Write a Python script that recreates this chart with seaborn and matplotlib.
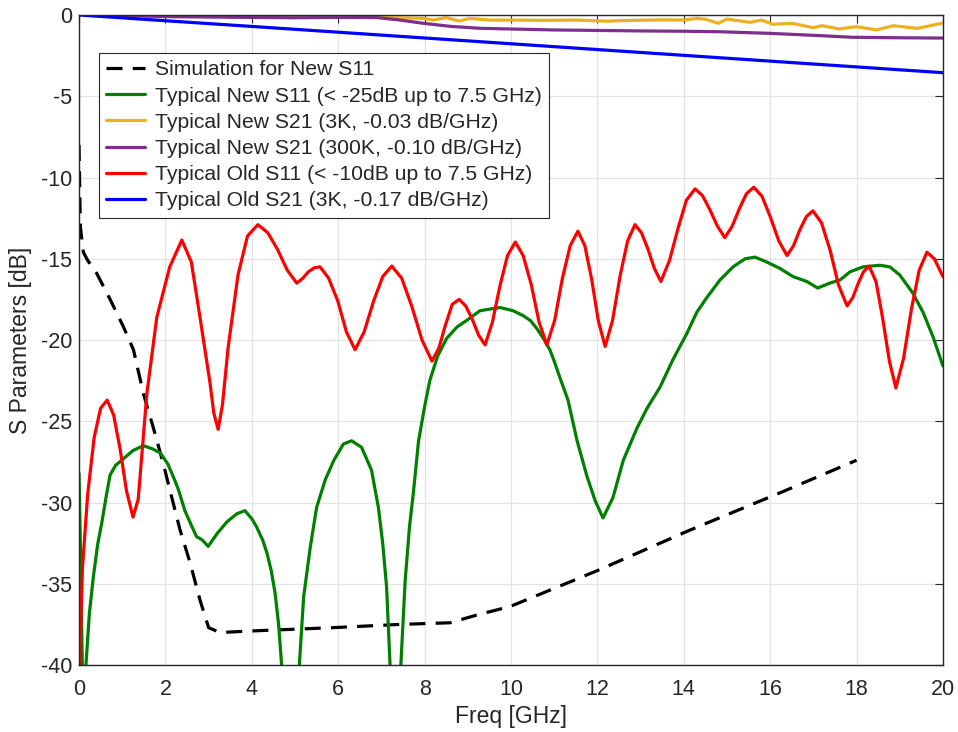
import seaborn as sns
import matplotlib.pyplot as plt

# ---- data (freq in GHz, level in dB) ----
sim_freq = [0, 0.03, 0.1, 0.2, 0.41, 0.72, 1.03, 1.26, 1.49, 1.72, 1.95, 2.1,
            2.34, 2.57, 2.8, 3.0, 3.26, 4.03, 5.88, 7.43, 8.59, 9.24, 9.98,
            11.99, 14.14, 16.23, 18.0]
sim_s11 = [-8.0, -13.0, -14.6, -15.1, -15.9, -17.5, -19.2, -20.6, -23.3, -25.4,
           -27.6, -29.2, -31.7, -33.7, -36.0, -37.7, -38.0, -37.9, -37.7, -37.5,
           -37.4, -36.9, -36.4, -34.2, -31.7, -29.4, -27.4]

new_s11_freq = [0, 0.04, 0.09, 0.16, 0.24, 0.33, 0.43, 0.53, 0.63, 0.72, 0.85,
                1.03, 1.25, 1.49, 1.7, 1.88, 2.05, 2.18, 2.3, 2.45, 2.6, 2.72,
                2.85, 2.99, 3.2, 3.42, 3.65, 3.84, 4.0, 4.11, 4.25, 4.35, 4.45,
                4.54, 4.62, 4.69, 4.9, 5.1, 5.2, 5.35, 5.5, 5.7, 5.9, 6.12, 6.31,
                6.54, 6.77, 6.93, 7.03, 7.12, 7.2, 7.32, 7.45, 7.55, 7.65, 7.74,
                7.86, 8.0, 8.12, 8.3, 8.51, 8.75, 8.97, 9.28, 9.5, 9.75, 10.05,
                10.28, 10.45, 10.6, 10.75, 10.9, 11.0, 11.13, 11.32, 11.53,
                11.76, 11.95, 12.13, 12.36, 12.6, 12.92, 13.15, 13.45, 13.75,
                14.07, 14.3, 14.53, 14.84, 15.14, 15.42, 15.65, 15.92, 16.23,
                16.53, 16.85, 17.1, 17.38, 17.62, 17.85, 18.15, 18.54, 18.77,
                19.0, 19.3, 19.54, 19.77, 20.0]
new_s11 = [-28.2, -34.0, -42.5, -40.0, -36.8, -34.6, -32.6, -31.2, -29.6, -28.3,
           -27.7, -27.3, -26.8, -26.5, -26.7, -26.95, -27.6, -28.4, -29.2,
           -30.5, -31.4, -32.1, -32.3, -32.7, -31.9, -31.2, -30.7, -30.5, -31.0,
           -31.5, -32.3, -33.1, -34.2, -35.6, -37.5, -40.0, -46.0, -40.0, -35.8,
           -32.8, -30.3, -28.6, -27.4, -26.4, -26.2, -26.6, -28.0, -30.3, -32.5,
           -35.2, -40.0, -46.0, -40.0, -34.8, -31.5, -29.4, -26.2, -24.1, -22.5,
           -21.0, -19.9, -19.2, -18.8, -18.2, -18.1, -18.0, -18.2, -18.5, -18.8,
           -19.3, -19.9, -20.6, -21.3, -22.3, -23.7, -26.2, -28.4, -29.9,
           -30.95, -29.7, -27.4, -25.4, -24.2, -22.9, -21.2, -19.6, -18.3,
           -17.4, -16.3, -15.5, -15.0, -14.9, -15.2, -15.6, -16.1, -16.4, -16.8,
           -16.5, -16.3, -15.8, -15.5, -15.4, -15.5, -16.0, -17.1, -18.3, -19.8,
           -21.6]

new_s21_3k_freq = [0.42, 1.0, 2.0, 3.0, 4.0, 5.0, 5.9, 6.9, 7.97, 8.2, 8.5, 8.8,
                   9.05, 9.5, 10.0, 10.8, 11.5, 12.2, 12.8, 13.5, 14.0, 14.3,
                   14.5, 14.8, 15.0, 15.53, 15.8, 16.07, 16.5, 17.0, 17.2, 17.6,
                   18.0, 18.46, 18.85, 19.4, 20.0]
new_s21_3k = [0.0, -0.02, -0.04, -0.06, -0.08, -0.1, -0.12, -0.15, -0.2, -0.31,
              -0.16, -0.37, -0.21, -0.31, -0.31, -0.33, -0.31, -0.38, -0.33,
              -0.3, -0.31, -0.21, -0.26, -0.51, -0.25, -0.45, -0.31, -0.57,
              -0.51, -0.78, -0.66, -0.86, -0.72, -0.92, -0.66, -0.82, -0.5]

new_s21_300k_freq = [0.42, 2.0, 4.0, 5.0, 6.0, 6.9, 7.4, 7.97, 8.6, 9.3, 9.98,
                     11.0, 12.0, 13.0, 14.0, 14.84, 16.0, 17.0, 17.9, 19.0, 20.0]
new_s21_300k = [0.0, -0.1, -0.15, -0.17, -0.15, -0.16, -0.3, -0.51, -0.7, -0.82,
                -0.86, -0.92, -0.95, -0.98, -1.0, -1.03, -1.13, -1.25, -1.37,
                -1.4, -1.42]

old_s11_freq = [0, 0.08, 0.2, 0.35, 0.5, 0.65, 0.8, 0.95, 1.1, 1.25, 1.37, 1.57,
                1.8, 2.1, 2.38, 2.6, 2.8, 3.03, 3.12, 3.22, 3.32, 3.45, 3.68,
                3.9, 4.14, 4.37, 4.59, 4.82, 5.04, 5.18, 5.31, 5.45, 5.58, 5.78,
                5.99, 6.19, 6.39, 6.6, 6.82, 7.03, 7.24, 7.47, 7.7, 7.94, 8.17,
                8.33, 8.48, 8.64, 8.8, 8.95, 9.1, 9.25, 9.4, 9.57, 9.75, 9.92,
                10.1, 10.28, 10.47, 10.65, 10.83, 11.01, 11.19, 11.37, 11.55,
                11.71, 11.87, 12.02, 12.18, 12.35, 12.53, 12.7, 12.87, 13.02,
                13.17, 13.32, 13.47, 13.67, 13.87, 14.06, 14.26, 14.43, 14.6,
                14.78, 14.95, 15.12, 15.29, 15.45, 15.62, 15.81, 16.0, 16.2,
                16.39, 16.54, 16.69, 16.84, 16.99, 17.19, 17.39, 17.58, 17.78,
                17.91, 18.04, 18.16, 18.29, 18.45, 18.6, 18.76, 18.91, 19.09,
                19.27, 19.45, 19.63, 19.8, 20.0]
old_s11 = [-41.0, -34.0, -29.5, -26.0, -24.2, -23.7, -24.6, -26.7, -29.3, -30.9,
           -29.8, -23.3, -18.6, -15.5, -13.85, -15.2, -18.6, -22.6, -24.5,
           -25.5, -24.0, -20.5, -16.0, -13.6, -12.9, -13.4, -14.4, -15.7, -16.5,
           -16.2, -15.8, -15.55, -15.5, -16.2, -17.6, -19.5, -20.6, -19.5,
           -17.6, -16.1, -15.45, -16.2, -17.9, -20.0, -21.3, -20.5, -19.1,
           -17.8, -17.5, -17.9, -18.7, -19.7, -20.3, -18.9, -16.6, -14.8,
           -13.97, -14.8, -16.6, -18.9, -20.3, -18.8, -16.2, -14.2, -13.3,
           -14.2, -16.3, -18.8, -20.4, -18.8, -16.0, -13.9, -12.9, -13.4,
           -14.4, -15.6, -16.4, -15.1, -13.1, -11.4, -10.7, -11.1, -11.96,
           -13.0, -13.7, -13.0, -11.9, -11.0, -10.6, -11.15, -12.4, -13.9,
           -14.8, -14.2, -13.2, -12.4, -12.05, -12.8, -14.5, -16.6, -17.9,
           -17.4, -16.5, -15.8, -15.45, -16.4, -18.6, -21.3, -22.95, -21.1,
           -18.1, -15.7, -14.6, -15.0, -16.1]

old_s21_freq = [0, 5, 10, 15, 20]
old_s21 = [0.0, -0.88, -1.77, -2.66, -3.55]

labels = [
    "Simulation for New S11",
    "Typical New S11 (< -25dB up to 7.5 GHz)",
    "Typical New S21 (3K, -0.03 dB/GHz)",
    "Typical New S21 (300K, -0.10 dB/GHz)",
    "Typical Old S11 (< -10dB up to 7.5 GHz)",
    "Typical Old S21 (3K, -0.17 dB/GHz)",
]
colors = ["black", "#008000", "#EDB120", "#7E2F8E", "#FF0000", "#0000FF"]

# ---- style ----
sns.set_theme(style="whitegrid", rc={
    "axes.edgecolor": "#262626",
    "axes.linewidth": 1.0,
    "grid.color": "#e3e3e3",
    "grid.linewidth": 0.9,
    "xtick.direction": "in",
    "ytick.direction": "in",
    "axes.unicode_minus": False,
})
plt.rcParams['font.family'] = ['Liberation Sans', 'DejaVu Sans']

fig, ax = plt.subplots(figsize=(9.58, 7.32), dpi=100)
fig.subplots_adjust(left=0.0825, right=0.9843, bottom=0.0915, top=0.9795)

series = [
    (sim_freq, sim_s11, (0, (5, 3.2))),
    (new_s11_freq, new_s11, "-"),
    (new_s21_3k_freq, new_s21_3k, "-"),
    (new_s21_300k_freq, new_s21_300k, "-"),
    (old_s11_freq, old_s11, "-"),
    (old_s21_freq, old_s21, "-"),
]
for (x, y, ls), color, label in zip(series, colors, labels):
    sns.lineplot(x=x, y=y, color=color, linestyle=ls, linewidth=2.3,
                 label=label, ax=ax, sort=False, estimator=None)

ax.set_xlim(0, 20)
ax.set_ylim(-40, 0)
ax.set_xticks(range(0, 21, 2))
ax.set_yticks(range(-40, 1, 5))
ax.tick_params(axis='both', which='major', labelsize=15.5, length=6, width=0.8,
               color='#262626', labelcolor='#262626', top=True, right=True)
ax.tick_params(axis='x', pad=10)
ax.tick_params(axis='y', pad=5)

for spine in ax.spines.values():
    spine.set_visible(True)
    spine.set_color('#262626')

ax.set_xlabel("Freq [GHz]", fontsize=16.5, color='#262626', labelpad=4)
ax.set_ylabel("S Parameters [dB]", fontsize=16.5, color='#262626', labelpad=6)

leg = ax.legend(loc='upper left', bbox_to_anchor=(0.023, 0.9415),
                borderaxespad=0, fontsize=15.2, frameon=True, fancybox=False,
                edgecolor='#262626', framealpha=1, handlelength=1.85,
                handletextpad=0.45, labelspacing=0.34, borderpad=0.35)
leg.get_frame().set_linewidth(0.8)

plt.savefig("out.png", dpi=100)
plt.close()
